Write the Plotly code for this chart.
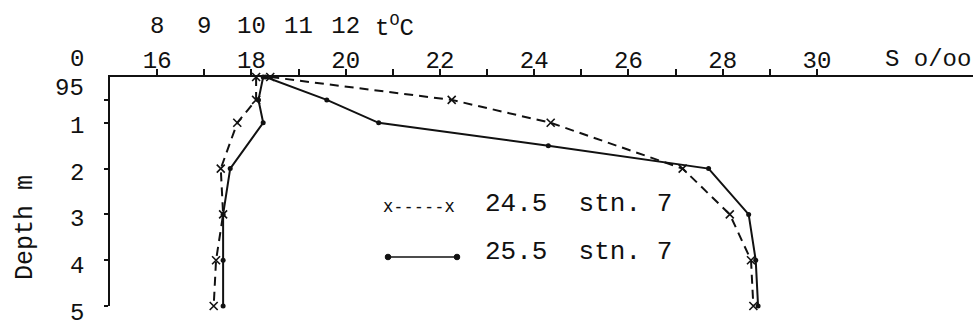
import plotly.graph_objects as go

# Depth (m) of the observations
depth = [0, 0.5, 1, 2, 3, 4, 5]
depth_sal_255 = [0, 0.5, 1, 1.5, 2, 3, 4, 5]

# Salinity (o/oo), station 7
salinity_245 = [18.4, 22.25, 24.35, 27.15, 28.15, 28.6, 28.65]
salinity_255 = [18.3, 19.6, 20.7, 24.3, 27.7, 28.55, 28.7, 28.75]

# Temperature (deg C), station 7
temp_245 = [10.1, 10.1, 9.7, 9.35, 9.4, 9.25, 9.2]
temp_255 = [10.25, 10.15, 10.25, 9.55, 9.4, 9.4, 9.4]

# Axis ticks
sal_ticks = list(range(16, 31, 2))
sal_minor_ticks = list(range(17, 30, 2))
temp_ticks = [8, 9, 10, 11, 12]
depth_ticks = [0.5, 1, 2, 3, 4, 5]
depth_ticktext = ["95", "1", "2", "3", "4", "5"]
depth_label_shift = [11, -4, -5, -5, -6, -7]  # typed labels sit a little off their ticks

INK = "#111111"
TYPE = "Liberation Mono, Courier New, monospace"
SANS_MONO = "DejaVu Sans Mono, monospace"

S_RANGE = [15.0, 33.31]
T_OFFSET = 8  # temperature scale is shifted 8 units against salinity

dashed = dict(color=INK, width=2, dash="9px,6px")
solid = dict(color=INK, width=2)
x_marker = dict(symbol="x-thin", size=8, line=dict(color=INK, width=1.6), color=INK)
dot_marker = dict(symbol="circle", size=5, color=INK)

fig = go.Figure()
fig.add_trace(go.Scatter(x=salinity_245, y=depth, mode="lines+markers", line=dashed,
                         marker=x_marker, cliponaxis=False, name="24.5 stn. 7 S"))
fig.add_trace(go.Scatter(x=salinity_255, y=depth_sal_255, mode="lines+markers", line=solid,
                         marker=dot_marker, cliponaxis=False, name="25.5 stn. 7 S"))
fig.add_trace(go.Scatter(x=temp_245, y=depth, mode="lines+markers", line=dashed,
                         marker=x_marker, cliponaxis=False, xaxis="x2", name="24.5 stn. 7 t"))
fig.add_trace(go.Scatter(x=temp_255, y=depth, mode="lines+markers", line=solid,
                         marker=dot_marker, cliponaxis=False, xaxis="x2", name="25.5 stn. 7 t"))

W, H = 973, 328
L, R, T, B = 110, 0, 77, 22
pw, ph = W - L - R, H - T - B


def px_x(x):
    return (x - L) / pw


def px_y(y):
    return 1 - (y - T) / ph


fig.update_layout(
    width=W, height=H,
    margin=dict(l=L, r=R, t=T, b=B),
    paper_bgcolor="white", plot_bgcolor="white",
    showlegend=False,
    font=dict(family=TYPE, size=24, color=INK),
    xaxis=dict(range=S_RANGE, side="top", showline=True, linecolor=INK, linewidth=2,
               ticks="outside", ticklen=6, tickwidth=1.5, tickcolor=INK,
               tickvals=sal_ticks, ticklabelstandoff=-9,
               minor=dict(tickmode="array", tickvals=sal_minor_ticks, ticks="outside",
                          ticklen=6, tickwidth=1.5, tickcolor=INK, showgrid=False),
               showgrid=False, zeroline=False),
    xaxis2=dict(range=[S_RANGE[0] - T_OFFSET, S_RANGE[1] - T_OFFSET], overlaying="x",
                anchor="y", side="top", showline=False, ticks="",
                tickvals=temp_ticks, ticklabelstandoff=38,
                showgrid=False, zeroline=False),
    yaxis=dict(range=[5, 0], showline=True, linecolor=INK, linewidth=2,
               ticks="outside", ticklen=4, tickwidth=1.5, tickcolor=INK,
               tickvals=depth_ticks, showticklabels=False,
               showgrid=False, zeroline=False),
)

annotations = []
# depth labels, placed on the depth scale left of the axis
for d, txt, shift in zip(depth_ticks, depth_ticktext, depth_label_shift):
    annotations.append(dict(text=txt, xref="paper", yref="y", x=px_x(86), y=d, yshift=shift,
                            xanchor="right", yanchor="middle", showarrow=False))

annotations += [
    dict(text="0", xref="paper", yref="paper", x=px_x(86), y=px_y(59),
         xanchor="right", yanchor="middle", showarrow=False),
    dict(text="t<sup>O</sup>C", xref="paper", yref="paper", x=px_x(373), y=px_y(27),
         xanchor="left", yanchor="middle", showarrow=False),
    dict(text="S o/oo", xref="paper", yref="paper", x=1.0, y=px_y(59),
         xanchor="right", yanchor="middle", showarrow=False),
    dict(text="Depth m", xref="paper", yref="paper", x=px_x(25), y=px_y(228),
         xanchor="center", yanchor="middle", textangle=-90, showarrow=False,
         font=dict(size=25)),
    dict(text="x-----x", xref="paper", yref="paper", x=px_x(381), y=px_y(206),
         xanchor="left", yanchor="middle", showarrow=False,
         font=dict(family=SANS_MONO, size=17)),
    dict(text="24.5  stn. 7", xref="paper", yref="paper", x=px_x(483), y=px_y(204),
         xanchor="left", yanchor="middle", showarrow=False, font=dict(size=26)),
    dict(text="25.5  stn. 7", xref="paper", yref="paper", x=px_x(483), y=px_y(252),
         xanchor="left", yanchor="middle", showarrow=False, font=dict(size=26)),
]
fig.update_layout(annotations=annotations)

# Legend sample for the solid series
ly = px_y(257)
x_a, x_b = px_x(388), px_x(457)
shapes = [dict(type="line", xref="paper", yref="paper", x0=x_a, x1=x_b, y0=ly, y1=ly,
               line=dict(color=INK, width=1.6))]
for xa in (x_a, x_b):
    shapes.append(dict(type="circle", xref="paper", yref="paper",
                       xsizemode="pixel", ysizemode="pixel", xanchor=xa, yanchor=ly,
                       x0=-2.8, x1=2.8, y0=-2.8, y1=2.8,
                       fillcolor=INK, line=dict(color=INK, width=1)))
fig.update_layout(shapes=shapes)

fig.write_html("out.html")
